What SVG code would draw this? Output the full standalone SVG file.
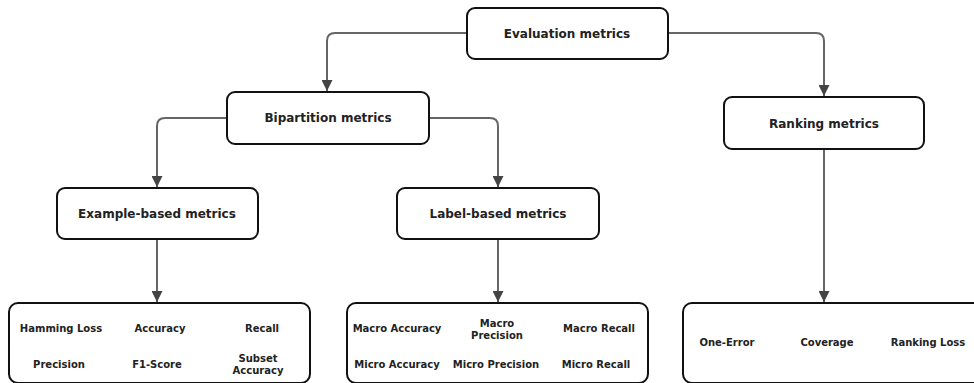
<svg xmlns="http://www.w3.org/2000/svg" width="974" height="383" viewBox="0 0 974 383">
<defs>
<style>
.box{fill:#fff;stroke:#111;stroke-width:2}
.t{font-family:"DejaVu Sans",Verdana,sans-serif;font-weight:bold;font-size:12px;fill:#222;text-anchor:middle;dominant-baseline:central}
.s{font-family:"DejaVu Sans",Verdana,sans-serif;font-weight:bold;font-size:10px;fill:#222;text-anchor:middle;dominant-baseline:central}
.c{fill:none;stroke:#666;stroke-width:2}
</style>
<marker id="ah" viewBox="0 0 10 10" refX="10" refY="5" markerWidth="5.5" markerHeight="5.5" orient="auto" markerUnits="strokeWidth">
<path d="M0,0 L10,5 L0,10 z" fill="#444"/>
</marker>
</defs>
<g id="connectors">
<path class="c" d="M467,33 H335 Q327,33 327,41 V91" marker-end="url(#ah)"/>
<path class="c" d="M668,33 H816 Q824,33 824,41 V96" marker-end="url(#ah)"/>
<path class="c" d="M227,118 H165 Q157,118 157,126 V187" marker-end="url(#ah)"/>
<path class="c" d="M429,118 H490 Q498,118 498,126 V187" marker-end="url(#ah)"/>
<path class="c" d="M157,239 V302" marker-end="url(#ah)"/>
<path class="c" d="M498,239 V302" marker-end="url(#ah)"/>
<path class="c" d="M824,149 V302" marker-end="url(#ah)"/>
</g>
<g id="eval"><rect class="box" x="467" y="8" width="201" height="51" rx="8"/><text class="t" x="567" y="34">Evaluation metrics</text></g>
<g id="bipartition"><rect class="box" x="227" y="92" width="202" height="52" rx="8"/><text class="t" x="328" y="118">Bipartition metrics</text></g>
<g id="ranking"><rect class="box" x="724" y="97" width="200" height="52" rx="8"/><text class="t" x="824" y="124">Ranking metrics</text></g>
<g id="example"><rect class="box" x="57" y="188" width="201" height="51" rx="8"/><text class="t" x="157" y="214">Example-based metrics</text></g>
<g id="label"><rect class="box" x="397" y="188" width="202" height="51" rx="8"/><text class="t" x="498" y="214">Label-based metrics</text></g>
<g id="example-list"><rect class="box" x="9" y="303" width="301" height="80" rx="9"/>
<text class="s" x="61" y="328">Hamming Loss</text>
<text class="s" x="160" y="328">Accuracy</text>
<text class="s" x="262" y="328">Recall</text>
<text class="s" x="59" y="364">Precision</text>
<text class="s" x="157" y="364">F1-Score</text>
<text class="s" x="258" y="358">Subset</text>
<text class="s" x="258" y="370">Accuracy</text>
</g>
<g id="label-list"><rect class="box" x="347" y="303" width="301" height="80" rx="9"/>
<text class="s" x="397" y="328">Macro Accuracy</text>
<text class="s" x="497" y="323">Macro</text>
<text class="s" x="497" y="335">Precision</text>
<text class="s" x="599" y="328">Macro Recall</text>
<text class="s" x="397" y="364">Micro Accuracy</text>
<text class="s" x="496" y="364">Micro Precision</text>
<text class="s" x="596" y="364">Micro Recall</text>
</g>
<g id="ranking-list"><rect class="box" x="683" y="303" width="301" height="80" rx="9"/>
<text class="s" x="727" y="342">One-Error</text>
<text class="s" x="827" y="342">Coverage</text>
<text class="s" x="928" y="342">Ranking Loss</text>
</g>
</svg>
